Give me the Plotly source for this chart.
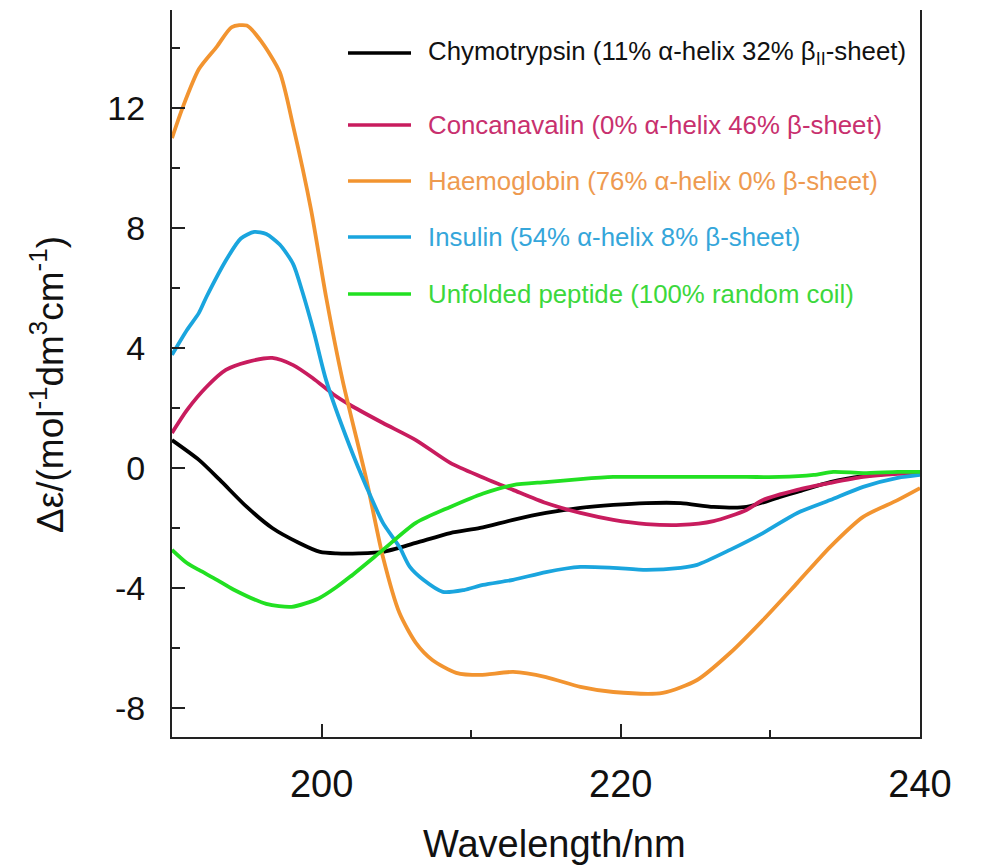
import plotly.graph_objects as go

# Circular dichroism spectra: wavelength (nm) vs delta-epsilon (mol^-1 dm^3 cm^-1)
chymo_x = [190, 191.8, 193.2, 195.0, 196.7, 198.5, 199.9, 201.0, 202.5, 204.1, 206.3, 208.6,
           210.6, 212.8, 215.0, 217.3, 219.5, 221.7, 224.0, 226.2, 228.4, 230.6, 231.8, 234.0,
           236.2, 238.5, 240]
chymo_y = [0.93, 0.27, -0.4, -1.3, -2.0, -2.5, -2.8, -2.85, -2.85, -2.8, -2.5, -2.17,
           -2.0, -1.73, -1.5, -1.33, -1.23, -1.17, -1.17, -1.3, -1.3, -0.97, -0.8, -0.47,
           -0.27, -0.17, -0.13]

conca_x = [190, 191.0, 192.3, 193.6, 195.0, 196.7, 198.1, 199.4, 200.8, 201.9, 204.1, 206.3,
           208.6, 210.7, 212.8, 215.0, 217.3, 219.5, 221.7, 224.0, 226.2, 228.4, 229.5, 231.8,
           234.0, 236.2, 238.5, 240]
conca_y = [1.17, 1.93, 2.7, 3.27, 3.53, 3.67, 3.43, 3.0, 2.45, 2.1, 1.5, 0.93,
           0.17, -0.3, -0.73, -1.17, -1.5, -1.73, -1.87, -1.9, -1.77, -1.4, -1.07, -0.73,
           -0.5, -0.3, -0.2, -0.17]

haemo_x = [190, 190.7, 191.8, 193.0, 194.0, 195.0, 196.0, 197.2, 198.1, 199.3, 200.3, 201.4,
           203.0, 204.1, 205.2, 206.3, 207.4, 209.0, 210.6, 212.8, 215.0, 217.3, 219.5, 222.8,
           225.1, 227.3, 229.5, 231.8, 234.0, 236.2, 238.5, 240]
haemo_y = [11.0, 12.0, 13.3, 14.05, 14.7, 14.75, 14.2, 13.2, 11.4, 8.6, 5.7, 2.93,
           -0.4, -2.97, -4.83, -5.83, -6.4, -6.83, -6.9, -6.8, -6.97, -7.3, -7.47, -7.5,
           -7.07, -6.17, -5.07, -3.83, -2.63, -1.63, -1.07, -0.67]

insul_x = [190, 191.0, 191.8, 192.3, 193.7, 194.6, 195.5, 196.3, 197.2, 198.1, 198.7, 199.5,
           200.3, 201.9, 203.0, 204.1, 205.2, 205.9, 206.8, 208.1, 209.5, 210.8, 212.8, 215.0,
           217.3, 219.5, 221.7, 224.0, 225.1, 227.3, 229.5, 231.8, 234.0, 236.2, 238.5, 240]
insul_y = [3.77, 4.6, 5.17, 5.7, 7.0, 7.65, 7.87, 7.8, 7.45, 6.8, 5.9, 4.5,
           2.93, 0.7, -0.63, -1.83, -2.63, -3.3, -3.73, -4.13, -4.07, -3.9, -3.73, -3.47,
           -3.3, -3.33, -3.4, -3.33, -3.23, -2.73, -2.17, -1.5, -1.07, -0.63, -0.33, -0.23]

unfold_x = [190, 191.0, 191.8, 193.0, 194.1, 196.3, 198.0, 199.8, 201.0, 201.9, 204.1, 206.3,
            208.6, 210.8, 212.8, 215.0, 217.3, 219.5, 221.7, 224.0, 228.4, 230.6, 232.9, 234.2,
            236.2, 238.5, 240]
unfold_y = [-2.73, -3.17, -3.4, -3.73, -4.05, -4.53, -4.63, -4.35, -3.97, -3.63, -2.73, -1.83,
            -1.3, -0.85, -0.57, -0.47, -0.37, -0.3, -0.3, -0.3, -0.3, -0.3, -0.23, -0.13,
            -0.17, -0.13, -0.13]

series_names = [
    "Chymotrypsin (11% α-helix 32% β<sub>II</sub>-sheet)",
    "Concanavalin (0% α-helix 46% β-sheet)",
    "Haemoglobin (76% α-helix 0% β-sheet)",
    "Insulin (54% α-helix 8% β-sheet)",
    "Unfolded peptide (100% random coil)",
]
series_x = [chymo_x, conca_x, haemo_x, insul_x, unfold_x]
series_y = [chymo_y, conca_y, haemo_y, insul_y, unfold_y]
line_colors = ["#000000", "#C81C5E", "#F29430", "#1AA5DE", "#22E022"]
text_colors = ["#111111", "#C8306E", "#EE9A50", "#35A6DA", "#3CD83C"]

# tick positions and their labels (plain hyphen for negatives)
x_ticks = [200, 220, 240]
x_tick_text = ["200", "220", "240"]
y_ticks = [-8, -4, 0, 4, 8, 12]
y_tick_text = ["-8", "-4", "0", "4", "8", "12"]

FONT = "Arial, Liberation Sans, sans-serif"
W, H = 982, 865
L, R, T, B = 172, 62, 10, 128

fig = go.Figure()
for xs, ys, col, name in zip(series_x, series_y, line_colors, series_names):
    fig.add_trace(go.Scatter(x=xs, y=ys, mode="lines", name=name, showlegend=False,
                             line=dict(color=col, width=3.8, shape="spline", smoothing=0.7)))

# hand-placed key in the upper right of the plot area
pw, ph = W - L - R, H - T - B
def px_x(p):
    return (p - L) / pw
def px_y(p):
    return (H - B - p) / ph

row_px = [53, 125, 181, 237, 294]
shapes = []
annotations = []
for name, lc, tc, ry in zip(series_names, line_colors, text_colors, row_px):
    shapes.append(dict(type="line", xref="paper", yref="paper",
                       x0=px_x(348), x1=px_x(411), y0=px_y(ry), y1=px_y(ry),
                       line=dict(color=lc, width=3.5)))
    annotations.append(dict(xref="paper", yref="paper", x=px_x(426), y=px_y(ry),
                            xanchor="left", yanchor="middle", showarrow=False, text=name,
                            font=dict(family=FONT, size=25.8, color=tc)))

annotations.append(dict(xref="paper", yref="paper", x=px_x(554), y=px_y(844),
                        xanchor="center", yanchor="middle", showarrow=False,
                        text="Wavelength/nm", font=dict(family=FONT, size=38, color="#111")))
annotations.append(dict(xref="paper", yref="paper", x=px_x(47), y=px_y(385),
                        xanchor="center", yanchor="middle", showarrow=False, textangle=-90,
                        text="Δε/(mol<sup>-1</sup>dm<sup>3</sup>cm<sup>-1</sup>)",
                        font=dict(family=FONT, size=37, color="#111")))

fig.update_layout(
    width=W, height=H,
    margin=dict(l=L, r=R, t=T, b=B),
    paper_bgcolor="white", plot_bgcolor="white",
    shapes=shapes, annotations=annotations,
    font=dict(family=FONT, color="#111"),
)
fig.update_xaxes(range=[190, 240], tickmode="array", tickvals=x_ticks, ticktext=x_tick_text,
                 ticks="inside", ticklen=13, tickwidth=2, tickcolor="#222",
                 minor=dict(tickmode="linear", dtick=10, tick0=190, ticks="inside", ticklen=7,
                            tickwidth=2, tickcolor="#222"),
                 showline=True, linecolor="#222", linewidth=2, mirror=False,
                 showgrid=False, zeroline=False, ticklabelstandoff=12,
                 tickfont=dict(family=FONT, size=38, color="#111"))
fig.update_yaxes(range=[-8.97, 15.27], tickmode="array", tickvals=y_ticks, ticktext=y_tick_text,
                 ticks="inside", ticklen=13, tickwidth=2, tickcolor="#222",
                 minor=dict(tickmode="linear", dtick=2, tick0=0, ticks="inside", ticklen=8,
                            tickwidth=2, tickcolor="#222"),
                 showline=True, linecolor="#222", linewidth=2, mirror=True,
                 showgrid=False, zeroline=False, ticklabelstandoff=18,
                 tickfont=dict(family=FONT, size=34, color="#111"))

fig.write_html("out.html")
